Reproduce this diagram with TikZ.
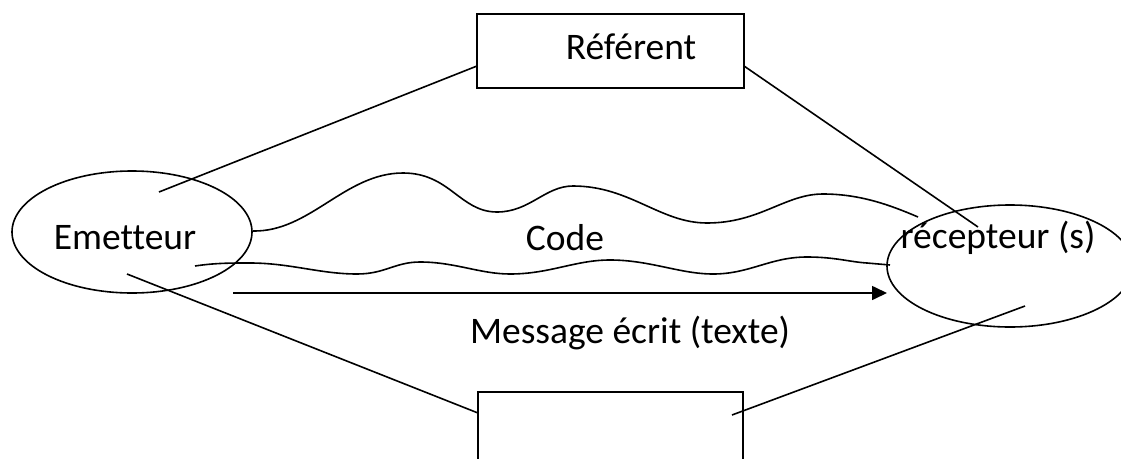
\documentclass[tikz,border=0pt]{standalone}
\usepackage{fontspec}
\setmainfont[Ligatures=NoCommon]{Carlito}
\usetikzlibrary{shapes.geometric,arrows.meta}
\begin{document}
\begin{tikzpicture}[x=1pt,y=-1pt,line width=1.6pt,
  boxnode/.style={draw,line width=1.6pt,rectangle,inner sep=0pt},
  ovalnode/.style={draw,line width=1.6pt,ellipse,inner sep=0pt},
  lbl/.style={inner sep=0pt,font=\fontsize{37.5}{44}\selectfont},
  wave/.style={line width=1.6pt},
  arr/.style={line width=1.6pt,-{Triangle[length=15pt,width=14pt]}}]
\clip (0,0) rectangle (1121,458);
% boxes
\node[boxnode,minimum width=267pt,minimum height=74pt] (ref) at (610.5,51) {};
\node[boxnode,minimum width=265pt,minimum height=90pt] (bot) at (610.5,437) {};
% ellipses
\node[ovalnode,minimum width=240pt,minimum height=122pt] (em) at (132,232) {};
\node[ovalnode,minimum width=246pt,minimum height=122pt] (rec) at (1010,266) {};
% labels
\node[lbl] (tref) at (631,47) {Référent};
\node[lbl] (tem) at (125,238) {Emetteur};
\node[lbl] (tcode) at (565,238) {Code};
\node[lbl] (trec) at (998,238) {récepteur (s)};
\node[lbl] (tmsg) at (630,333) {Message écrit (texte)};
% coordinates
\coordinate (e1) at (159,192);
\coordinate (r1) at (477,66);
\coordinate (r2) at (744,66);
\coordinate (c1) at (978,227);
\coordinate (e2) at (127,274);
\coordinate (b1) at (478,413);
\coordinate (c2) at (1025,306);
\coordinate (b2) at (732,415);
\coordinate (w1s) at (253,231);
\coordinate (w1e) at (918,217);
\coordinate (w2s) at (195,266);
\coordinate (w2e) at (890,265);
\coordinate (as) at (233,293);
\coordinate (ae) at (887,293);
% straight connectors
\draw (e1) -- (r1);
\draw (r2) -- (c1);
\draw (e2) -- (b1);
\draw (c2) -- (b2);
% upper wave
\draw[wave] (w1s) .. controls (310,232) and (345,173) .. (403,173)
  .. controls (450,173) and (460,212) .. (497,212)
  .. controls (530,212) and (545,186) .. (573,186)
  .. controls (630,186) and (660,223) .. (707,223)
  .. controls (760,223) and (785,194) .. (823,194)
  .. controls (860,194) and (890,205) .. (w1e);
% lower wave
\draw[wave] (w2s) .. controls (215,263) and (230,263) .. (250,263)
  .. controls (290,263) and (320,274) .. (357,274)
  .. controls (385,274) and (395,262) .. (420,262)
  .. controls (455,262) and (480,274) .. (510,274)
  .. controls (550,274) and (575,260) .. (610,260)
  .. controls (650,260) and (680,274) .. (713,274)
  .. controls (750,274) and (770,257) .. (807,257)
  .. controls (835,257) and (850,262) .. (867,263) -- (w2e);
% arrow
\draw[arr] (as) -- (ae);
\end{tikzpicture}
\end{document}
